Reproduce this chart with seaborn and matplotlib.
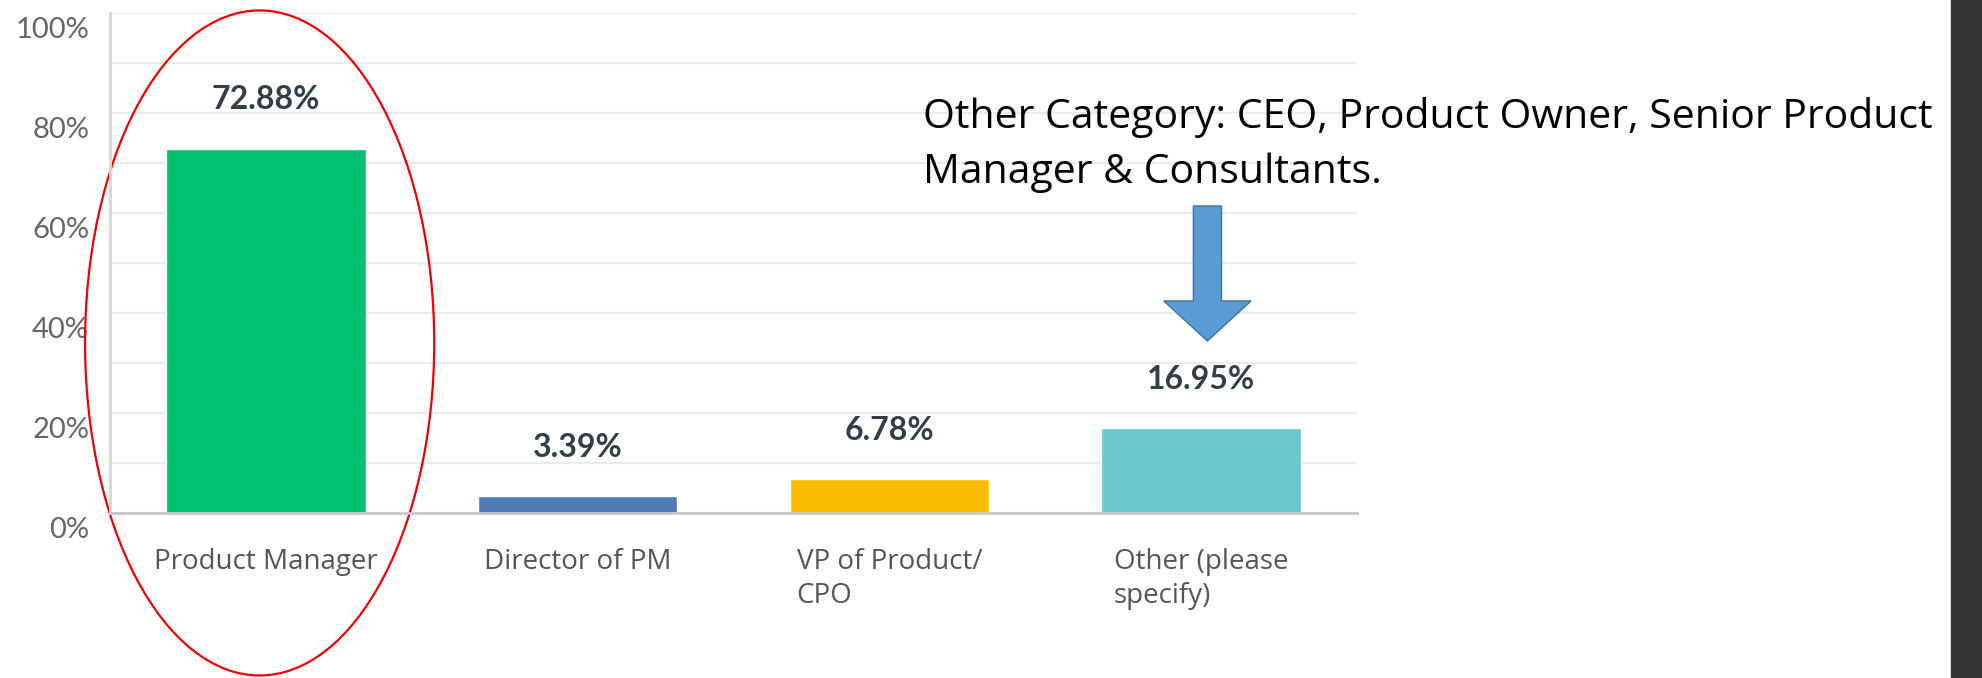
import matplotlib
matplotlib.use('Agg')
import matplotlib.pyplot as plt
import matplotlib.transforms as mtransforms
from matplotlib.patches import Ellipse, FancyArrow, Rectangle
import seaborn as sns
import pandas as pd

# Survey data
roles = ['Product Manager', 'Director of PM', 'VP of Product/\nCPO', 'Other (please\nspecify)']
pcts = [72.88, 3.39, 6.78, 16.95]
bar_colors = ['#00bf6f', '#507cb6', '#f9be00', '#6bc8cd']
y_ticks = [0, 20, 40, 60, 80, 100]
note = 'Other Category: CEO, Product Owner, Senior Product\nManager & Consultants.'

df = pd.DataFrame({'role': roles, 'pct': pcts})

sns.set_style('white')
fig = plt.figure(figsize=(19.82, 6.78), dpi=100)
ax = fig.add_axes([0.0555, 0.2434, 0.6292, 0.7375])

sns.barplot(data=df, x='role', y='pct', hue='role', palette=bar_colors,
            saturation=1, width=0.64, legend=False, ax=ax)

ax.set_xlim(-0.5, 3.5)
ax.set_ylim(0, 100)
ax.set_xlabel('')
ax.set_ylabel('')

# light gridlines every 10%
ax.set_yticks(range(0, 101, 10), minor=True)
ax.yaxis.grid(True, which='both', color='#ebebeb', lw=1.6)
ax.set_axisbelow(True)
ax.set_yticks(y_ticks)
ax.set_yticklabels([f'{t}%' for t in y_ticks], fontsize=21, color='#666666', family='Lato')
ax.tick_params(axis='y', which='both', length=0, pad=15)
ax.tick_params(axis='x', length=0, pad=25)
ax.set_xticks(range(len(roles)))
ax.set_xticklabels(roles, fontsize=20, color='#555555', family='Open Sans', linespacing=1.3)
for lab in ax.get_xticklabels():
    lab.set_multialignment('left')

# y labels sit a little below their gridlines in the screenshot
offset = mtransforms.ScaledTranslation(0, -0.15, fig.dpi_scale_trans)
for lab in ax.get_yticklabels():
    lab.set_transform(lab.get_transform() + offset)

for s in ['top', 'right']:
    ax.spines[s].set_visible(False)
ax.spines['left'].set_color('#d6d6d6')
ax.spines['left'].set_linewidth(2)
ax.spines['bottom'].set_color('#c8c8c8')
ax.spines['bottom'].set_linewidth(2)

# value labels
for i, v in enumerate(pcts):
    ax.annotate(f'{v:.2f}%', xy=(i, v), xytext=(0, 35), textcoords='offset points',
                ha='center', va='center', fontsize=23, fontweight='bold',
                color='#333e48', family='Lato')

# red ellipse around Product Manager
ax.add_patch(Ellipse((-0.02, 34), 1.12, 133, fill=False, ec='#ee0000', lw=1.6, clip_on=False))

# blue arrow pointing at the Other bar
ax.add_patch(FancyArrow(3.02, 61.4, 0, -27, width=0.09, head_width=0.28, head_length=8,
                        length_includes_head=True, fc='#5b9bd5', ec='#41719c', lw=1,
                        clip_on=False))

fig.text(923 / 1982, 0.786, note, ha='left', va='center', fontsize=29.5,
         family='Open Sans', color='black', linespacing=1.45)

# dark strip at the right edge of the screenshot
fig.patches.append(Rectangle((1951 / 1982, 0), 1, 1, transform=fig.transFigure,
                             color='#353535', zorder=0))

fig.savefig('out.png', dpi=100)
